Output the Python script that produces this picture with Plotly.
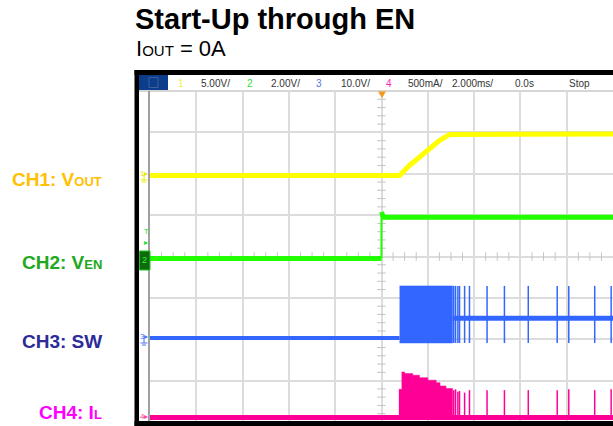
import numpy as np
import plotly.graph_objects as go

# ---------------- scope settings ----------------
T_RANGE = [-10, 10]          # ms, 2.000 ms/div, trigger at 0
DIV_RANGE = [-4, 4]          # vertical divisions

CH_SCALE = {"ch1": 5.0, "ch2": 2.0, "ch3": 10.0, "ch4": 0.5}     # units per division
CH_ZERO = {"ch1": 1.96, "ch2": -0.05, "ch3": -1.97, "ch4": -3.89}  # ground level, divisions

# ---------------- captured waveforms ----------------
# CH1: output voltage (V)
VOUT_T = [-10, 0.78, 1.21, 1.94, 2.50, 2.94, 10]
VOUT_V = [0.0, 0.0, 1.2, 2.8, 4.2, 4.95, 5.0]

# CH2: enable pin (V)
VEN_T = [-10, 0.0, 0.0, 0.08, 10]
VEN_V = [0.0, 0.0, 2.25, 2.0, 2.0]

# CH3: switch node (V)
SW_IDLE_T = [-10, 0.78]
SW_IDLE_V = [0.0, 0.0]
SW_BURST_T = [0.78, 3.07]
SW_BURST_V = [-1.2, 12.6]
SW_SETTLE_T = [3.07, 10]
SW_SETTLE_V = [4.8, 4.8]
PULSE_T = [2.95, 3.12, 3.20, 3.30, 3.37, 3.59, 3.80, 4.56, 5.31, 6.34, 7.59, 8.09, 9.21, 9.92]
SW_PULSE_V = [-1.2, 12.6]

# CH4: inductor current (A)
IL_BASE_T = [-10, 10]
IL_BASE_A = [0.0, 0.0]
IL_ENV_T = [0.75, 0.88, 1.00, 1.35, 1.64, 2.00, 2.36, 2.53, 2.79, 3.07]
IL_ENV_A = [0.34, 0.55, 0.53, 0.51, 0.48, 0.45, 0.42, 0.38, 0.35, 0.34]
IL_PULSE_A = [0.33, 0.33, 0.34, 0.31, 0.32, 0.30, 0.33, 0.33, 0.33, 0.33, 0.33, 0.34, 0.33, 0.34]

# header readout
HEADER_TEXT = ["1", "5.00V/", "2", "2.00V/", "3", "10.0V/", "4", "500mA/", "2.000ms/", "0.0s", "Stop"]

# ---------------- page geometry ----------------
W, H = 613, 426
ML, MR, MT, MB = 150, 0, 91, 4
PW, PH = W - ML - MR, H - MT - MB


def px(x):
    return (x - ML) / PW


def py(y):
    return (H - MB - y) / PH


def div(ch, vals):
    return [CH_ZERO[ch] + v / CH_SCALE[ch] for v in vals]


YEL, GRN, BLU, PNK = "#FFFF00", "#22FF00", "#3366FF", "#FF0096"
FONT = "Liberation Sans, Arial, sans-serif"

fig = go.Figure()

# minor ticks on the centre cross
ty = [v for v in np.arange(-4, 4.001, 0.2) if abs(v - round(v)) > 1e-6]
tx = [v for v in np.arange(-10, 10.001, 0.5) if abs(v / 2 - round(v / 2)) > 1e-6]
fig.add_trace(go.Scatter(x=[0] * len(ty), y=ty, mode="markers", hoverinfo="skip",
                         marker=dict(symbol="line-ew", size=6, line=dict(width=1, color="#c4c4c4"))))
fig.add_trace(go.Scatter(x=tx, y=[0] * len(tx), mode="markers", hoverinfo="skip",
                         marker=dict(symbol="line-ns", size=6, line=dict(width=1, color="#c4c4c4"))))

# CH4 inductor current
fig.add_trace(go.Scatter(x=IL_BASE_T, y=div("ch4", IL_BASE_A), mode="lines",
                         line=dict(color=PNK, width=5)))
env_x = IL_ENV_T + IL_ENV_T[::-1]
env_y = div("ch4", IL_ENV_A) + div("ch4", [0.0] * len(IL_ENV_T))
fig.add_trace(go.Scatter(x=env_x, y=env_y, mode="lines", fill="toself", fillcolor=PNK,
                         line=dict(color=PNK, width=0.5, shape="hv")))
ilx, ily = [], []
for t, a in zip(PULSE_T, IL_PULSE_A):
    ilx += [t, t, None]
    ily += div("ch4", [0.0, a]) + [None]
fig.add_trace(go.Scatter(x=ilx, y=ily, mode="lines", line=dict(color=PNK, width=1.5)))

# CH3 switch node
fig.add_trace(go.Scatter(x=SW_IDLE_T, y=div("ch3", SW_IDLE_V), mode="lines",
                         line=dict(color=BLU, width=4)))
lo, hi = div("ch3", SW_BURST_V)
fig.add_trace(go.Scatter(x=[SW_BURST_T[0], SW_BURST_T[1], SW_BURST_T[1], SW_BURST_T[0]],
                         y=[lo, lo, hi, hi], mode="lines", fill="toself", fillcolor=BLU,
                         line=dict(color=BLU, width=0.5)))
fig.add_trace(go.Scatter(x=SW_SETTLE_T, y=div("ch3", SW_SETTLE_V), mode="lines",
                         line=dict(color=BLU, width=5)))
swx, swy = [], []
for t in PULSE_T:
    swx += [t, t, None]
    swy += div("ch3", SW_PULSE_V) + [None]
fig.add_trace(go.Scatter(x=swx, y=swy, mode="lines", line=dict(color=BLU, width=1.5)))

# CH2 enable
fig.add_trace(go.Scatter(x=VEN_T[:2], y=div("ch2", VEN_V[:2]), mode="lines",
                         line=dict(color=GRN, width=5)))
fig.add_trace(go.Scatter(x=VEN_T[1:3], y=div("ch2", VEN_V[1:3]), mode="lines",
                         line=dict(color=GRN, width=2)))
fig.add_trace(go.Scatter(x=VEN_T[2:], y=div("ch2", VEN_V[2:]), mode="lines",
                         line=dict(color=GRN, width=5)))

# CH1 output voltage
fig.add_trace(go.Scatter(x=VOUT_T, y=div("ch1", VOUT_V), mode="lines",
                         line=dict(color=YEL, width=5)))

# ---------------- frame / header decoration ----------------
shapes = [
    # header separator
    dict(type="line", xref="paper", yref="paper", x0=px(139), x1=px(620), y0=py(91), y1=py(91),
         line=dict(color="#c8c8c8", width=1.5), layer="below"),
    # black bezel
    dict(type="rect", xref="paper", yref="paper", x0=px(134.5), x1=px(625), y0=py(70), y1=py(75),
         fillcolor="black", line=dict(width=0), layer="above"),
    dict(type="rect", xref="paper", yref="paper", x0=px(134.5), x1=px(139), y0=py(70), y1=py(430),
         fillcolor="black", line=dict(width=0), layer="above"),
    dict(type="rect", xref="paper", yref="paper", x0=px(134.5), x1=px(625), y0=py(421), y1=py(430),
         fillcolor="black", line=dict(width=0), layer="above"),
    # menu button
    dict(type="rect", xref="paper", yref="paper", x0=px(139), x1=px(168), y0=py(75), y1=py(90),
         fillcolor="#0C3C8C", line=dict(width=0), layer="above"),
    dict(type="rect", xref="paper", yref="paper", x0=px(149), x1=px(158), y0=py(77.5), y1=py(87.5),
         fillcolor="rgba(0,0,0,0)", line=dict(color="#3f5f96", width=1), layer="above"),
    # trigger position marker
    dict(type="path", xref="paper", yref="paper",
         path=f"M {px(378)},{py(91.5)} L {px(386)},{py(91.5)} L {px(382)},{py(98)} Z",
         fillcolor="#F29A1E", line=dict(width=0), layer="above"),
    # channel 2 reference box
    dict(type="rect", xref="paper", yref="paper", x0=px(139.5), x1=px(150), y0=py(251), y1=py(270),
         fillcolor="#0d6a0d", line=dict(color="#1ec81e", width=1), layer="above"),
]
# ground symbols for CH1 / CH3
for gy, col in [(175, "#E8E800"), (338, "#4a72ff")]:
    shapes += [
        dict(type="line", xref="paper", yref="paper", x0=px(144), x1=px(144), y0=py(gy), y1=py(gy + 5),
             line=dict(color=col, width=1), layer="above"),
        dict(type="line", xref="paper", yref="paper", x0=px(140.5), x1=px(147.5), y0=py(gy + 5), y1=py(gy + 5),
             line=dict(color=col, width=1), layer="above"),
        dict(type="line", xref="paper", yref="paper", x0=px(142), x1=px(146), y0=py(gy + 7), y1=py(gy + 7),
             line=dict(color=col, width=1), layer="above"),
    ]

ann = []


def label(text, x, y, size, color, anchor="left", bold=False, family=FONT):
    ann.append(dict(text=f"<b>{text}</b>" if bold else text, x=px(x), y=py(y), xref="paper", yref="paper",
                    xanchor=anchor, yanchor="middle", showarrow=False,
                    font=dict(family=family, size=size, color=color)))


# title block
label("Start-Up through EN", 133, 19, 29, "black", bold=True)
label("I<span style='font-size:15px'>OUT</span> = 0A", 134, 48, 22, "black")

# channel names
label("CH1: V<span style='font-size:13px'>OUT</span>", 104, 179, 19, "#FFC000", "right", True)
label("CH2: V<span style='font-size:13px'>EN</span>", 104, 262, 19, "#20A820", "right", True)
label("CH3: SW", 104, 341, 19, "#2B2B99", "right", True)
label("CH4: I<span style='font-size:13px'>L</span>", 104, 412, 19, "#FF00FF", "right", True)

# header readout
hx = [181, 215, 250, 285, 319, 355, 389, 425.5, 472, 524.5, 579]
hc = ["#F0F040", "#333333", "#33DD33", "#333333", "#5577EE", "#333333", "#FF22BB",
      "#333333", "#333333", "#333333", "#333333"]
for t, x, c in zip(HEADER_TEXT, hx, hc):
    ann.append(dict(text=t, x=px(x), y=py(83), xref="paper", yref="paper", xanchor="center",
                    yanchor="middle", showarrow=False, font=dict(family=FONT, size=10, color=c)))

# channel reference markers on the left edge
label("1▸", 150, 173, 8, "#E8E800", "right")
label("2", 144.5, 260, 9, "#3cf03c", "center")
label("T", 146, 231, 8, "#22DD22", "center")
label("▸", 150, 242, 8, "#22DD22", "right")
label("3▸", 150, 336, 8, "#4a72ff", "right")
label("4▸", 150, 416, 8, "#FF3FA0", "right")

fig.update_layout(
    width=W, height=H,
    margin=dict(l=ML, r=MR, t=MT, b=MB, pad=0),
    paper_bgcolor="white", plot_bgcolor="white",
    showlegend=False,
    shapes=shapes, annotations=ann,
    xaxis=dict(range=T_RANGE, dtick=2, tick0=0, showgrid=True, gridcolor="#dcdcdc", gridwidth=2,
               zeroline=False, showticklabels=False, ticks="", showline=False, fixedrange=True),
    yaxis=dict(range=DIV_RANGE, dtick=1, tick0=0, showgrid=True, gridcolor="#dcdcdc", gridwidth=2,
               zeroline=False, showticklabels=False, ticks="", showline=True, linecolor="#a0a0a0",
               linewidth=2, fixedrange=True),
)

fig.write_html("out.html")
